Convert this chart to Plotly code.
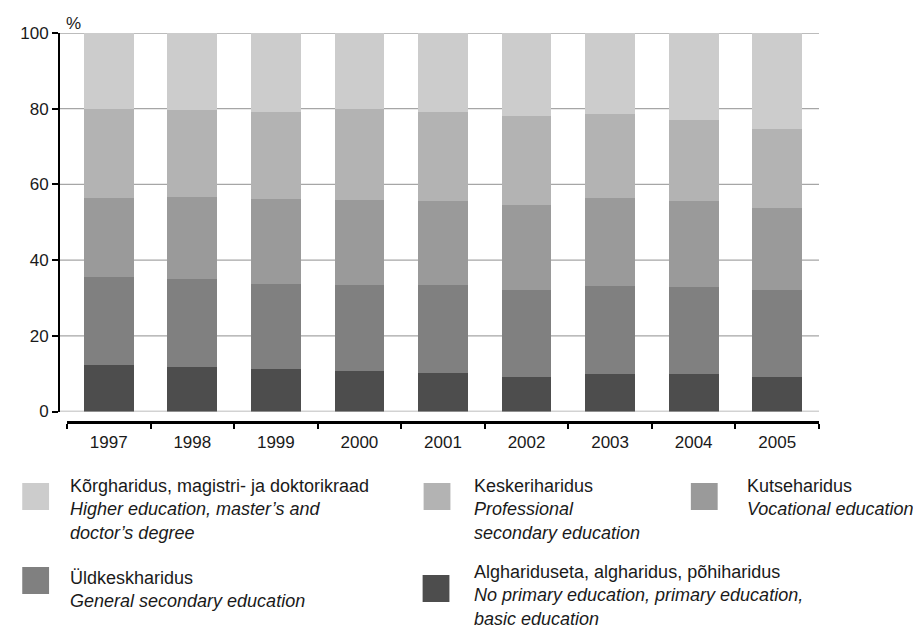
import plotly.graph_objects as go

years = ["1997", "1998", "1999", "2000", "2001", "2002", "2003", "2004", "2005"]

# shares by education level, %, bottom of the stack first
alghariduseta = [12.2, 11.7, 11.1, 10.6, 10.1, 9.0, 9.8, 9.8, 9.0]
uldkeskharidus = [23.4, 23.3, 22.5, 22.8, 23.3, 23.0, 23.3, 23.0, 23.0]
kutseharidus = [20.8, 21.7, 22.5, 22.5, 22.2, 22.5, 23.3, 22.8, 21.8]
keskeriharidus = [23.6, 23.0, 23.1, 24.1, 23.6, 23.6, 22.2, 21.5, 20.9]
korgharidus = [20.0, 20.3, 20.8, 20.0, 20.8, 21.9, 21.4, 22.9, 25.3]

series_names = [
    "Alghariduseta, algharidus, põhiharidus",
    "Üldkeskharidus",
    "Kutseharidus",
    "Keskeriharidus",
    "Kõrgharidus, magistri- ja doktorikraad",
]
series_values = [alghariduseta, uldkeskharidus, kutseharidus, keskeriharidus, korgharidus]
colors = ["#4d4d4d", "#808080", "#9a9a9a", "#b3b3b3", "#cccccc"]

y_ticks = [0, 20, 40, 60, 80, 100]

# legend texts (Estonian / English), same order as the series
legend_en = [
    "No primary education, primary education,<br>basic education",
    "General secondary education",
    "Vocational education",
    "Professional<br>secondary education",
    "Higher education, master’s and<br>doctor’s degree",
]

FONT = "Liberation Sans, Arial, sans-serif"
W, H = 921, 628
OFF = 8  # the page body adds 8px around the figure
ML, MR, MT, MB = 54 - OFF, 102 + OFF, 33 - OFF, 206 + OFF
PW, PH = W - ML - MR, H - MT - MB


def px_x(x):
    # page pixel -> paper fraction
    return (x - OFF - ML) / PW


def px_y(y):
    return (H - MB - (y - OFF)) / PH


fig = go.Figure()
for name, vals, col in zip(series_names, series_values, colors):
    fig.add_trace(go.Bar(x=years, y=vals, name=name, marker_color=col,
                         marker_line_width=0, showlegend=False))

# gridlines, running from the y axis to the right end
for t in y_ticks:
    fig.add_shape(type="line", xref="paper", yref="y", x0=0, x1=1, y0=t, y1=t,
                  line=dict(color="#a6a6a6", width=1.3), layer="below")

# legend drawn by hand: swatches and two-language labels
# (swatch left/top, text left/top, in page px)
legend_pos = [
    (420, 575, 470, 560),
    (17, 567, 63, 566),
    (690, 483, 745, 474),
    (421, 483, 470, 474),
    (17, 483, 63, 474),
]
for et, en, col, (sx, sy, tx, ty) in zip(series_names, legend_en, colors, legend_pos):
    fig.add_shape(type="rect", xref="paper", yref="paper",
                  x0=px_x(sx), x1=px_x(sx + 27), y0=px_y(sy), y1=px_y(sy + 27),
                  fillcolor=col, line_width=0)
    fig.add_annotation(xref="paper", yref="paper", x=px_x(tx), y=px_y(ty),
                       xanchor="left", yanchor="top", align="left", showarrow=False,
                       text=f"{et}<br><i>{en}</i>",
                       font=dict(family=FONT, size=18, color="#1a1a1a"))

fig.add_annotation(xref="paper", yref="paper", x=px_x(59), y=px_y(12),
                   xanchor="left", yanchor="top", showarrow=False, text="%",
                   font=dict(family=FONT, size=17, color="#1a1a1a"))

fig.update_layout(
    barmode="stack",
    bargap=0.405,
    width=W,
    height=H,
    margin=dict(l=ML, r=MR, t=MT, b=MB),
    paper_bgcolor="white",
    plot_bgcolor="white",
    font=dict(family=FONT, size=17, color="#1a1a1a"),
    xaxis=dict(
        domain=[px_x(62), 1],
        anchor="free",
        position=0,
        type="category",
        showline=True,
        linecolor="black",
        linewidth=2.5,
        ticks="outside",
        tickson="boundaries",
        ticklen=5,
        tickwidth=1.5,
        tickcolor="black",
        showgrid=False,
        ticklabelstandoff=4,
        tickfont=dict(size=17),
    ),
    yaxis=dict(
        domain=[px_y(411.5), 1],
        anchor="free",
        position=0,
        range=[0, 100],
        tickvals=y_ticks,
        showgrid=False,
        zeroline=False,
        showline=True,
        linecolor="black",
        linewidth=2,
        ticks="outside",
        ticklen=6,
        tickwidth=1.5,
        tickcolor="black",
        tickfont=dict(size=17),
    ),
)

fig.write_html("out.html")
